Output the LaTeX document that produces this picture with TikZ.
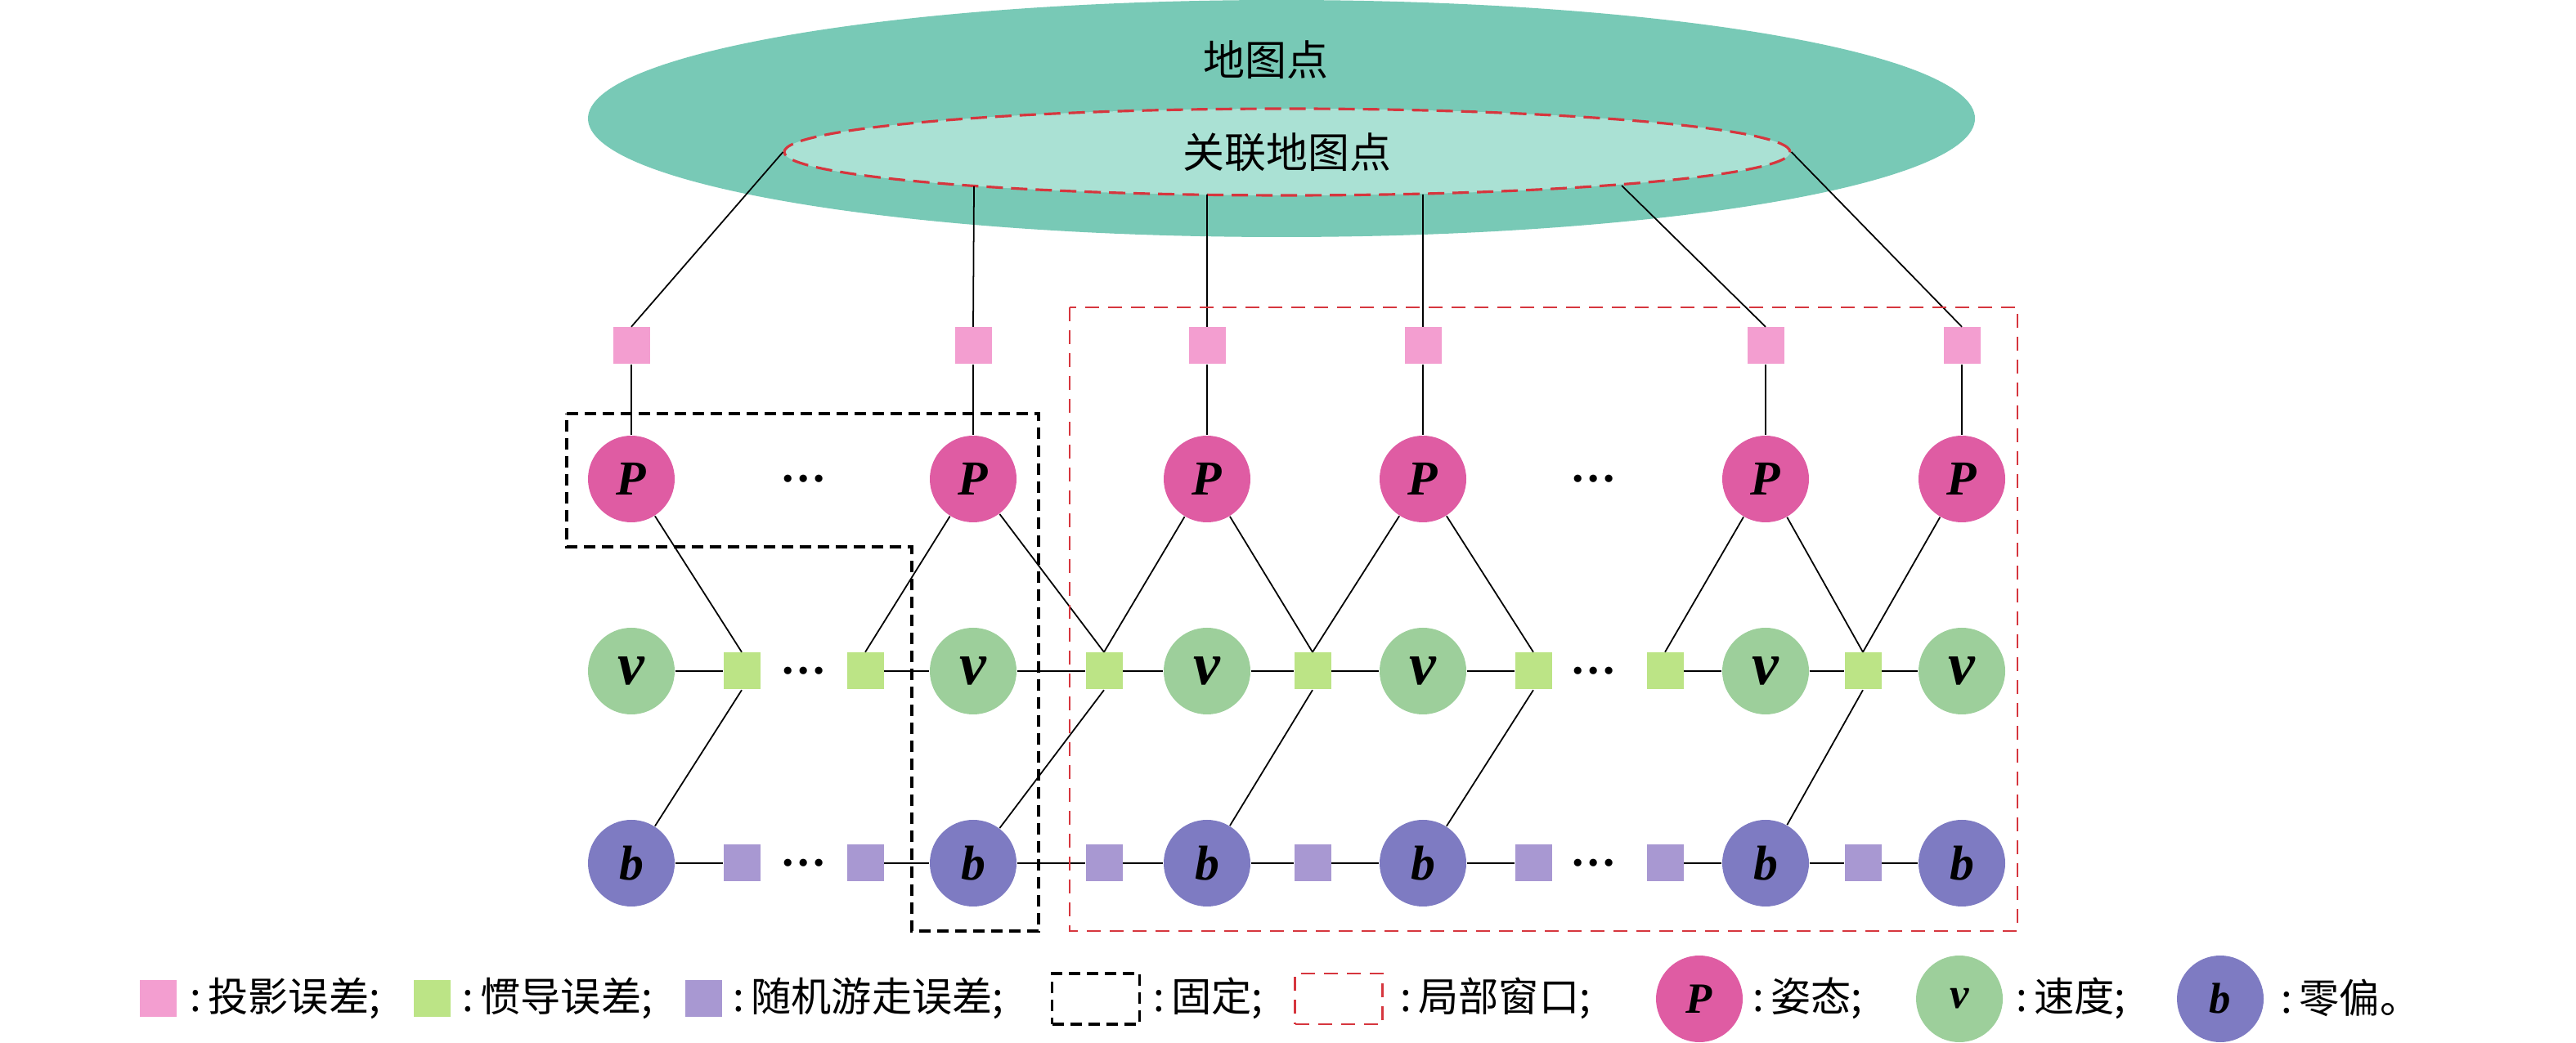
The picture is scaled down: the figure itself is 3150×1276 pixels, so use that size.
\documentclass[tikz,border=0pt]{standalone}
\usepackage{fontspec}
\setmainfont{Liberation Serif}
\newfontfamily\cjk{Noto Sans CJK SC}
\usetikzlibrary{positioning,shapes.geometric}

\definecolor{mapteal}{HTML}{78C9B6}
\definecolor{selteal}{HTML}{AAE1D4}
\definecolor{winred}{HTML}{D6363E}
\definecolor{posecol}{HTML}{DF5CA3}
\definecolor{velcol}{HTML}{9DCF9B}
\definecolor{biascol}{HTML}{7E7BC2}
\definecolor{projcol}{HTML}{F39ED0}
\definecolor{imucol}{HTML}{BCE486}
\definecolor{walkcol}{HTML}{A898D2}

\begin{document}
\begin{tikzpicture}[
    x=0.1mm, y=-0.1mm,
    posenode/.style={circle, fill=posecol, minimum size=10.6mm, inner sep=0pt, font=\fontsize{17}{17}\selectfont\bfseries\itshape},
    velnode/.style={circle, fill=velcol, minimum size=10.6mm, inner sep=0pt, font=\fontsize{21}{21}\selectfont\bfseries\itshape},
    biasnode/.style={circle, fill=biascol, minimum size=10.6mm, inner sep=0pt, font=\fontsize{17}{17}\selectfont\bfseries\itshape},
    projsq/.style={rectangle, fill=projcol, minimum size=4.5mm, inner sep=0pt},
    imusq/.style={rectangle, fill=imucol, minimum size=4.5mm, inner sep=0pt},
    walksq/.style={rectangle, fill=walkcol, minimum size=4.5mm, inner sep=0pt},
    dotsnode/.style={inner sep=0pt, font=\fontsize{16}{16}\selectfont\bfseries},
    legtext/.style={anchor=west, inner sep=0pt, font=\fontsize{14}{16}\selectfont\cjk},
    legletter/.style={font=\fontsize{15}{15}\selectfont\bfseries\itshape},
    fixbox/.style={draw=black, line width=0.9pt, dash pattern=on 1.4mm off 0.8mm},
    winbox/.style={draw=winred, line width=0.7pt, dash pattern=on 1.7mm off 1.1mm},
    link/.style={draw=black, line width=0.5pt},
    on grid, node distance=23.5mm,
    ]
\useasboundingbox (0,0) rectangle (3150,1276);

%Map points
\node[ellipse, fill=mapteal, minimum width=169.6mm, minimum height=29mm, inner sep=0pt] (map) at (1567,145) {};
\node[font=\fontsize{14.5}{16}\selectfont\cjk] (maplbl) at (1548,73) {地图点};
\node[ellipse, fill=selteal, draw=winred, line width=0.9pt, dash pattern=on 2mm off 1mm,
      minimum width=123mm, minimum height=10.6mm, inner sep=0pt,
      font=\fontsize{14.5}{16}\selectfont\cjk] (mapsel) at (1574,186) {关联地图点};
% points on the lower rim of the associated map points
\coordinate (sel2) at (1191,228);
\coordinate (sel3) at (1476,238);
\coordinate (sel4) at (1740,238);
\coordinate (sel5) at (1983,227);

%Nodes
\node[posenode]  (P1) at (772,586)             {P};
\node[posenode]  (P2) [right=41.8mm of P1]     {P};
\node[posenode]  (P3) [right=28.6mm of P2]     {P};
\node[posenode]  (P4) [right=26.4mm of P3]     {P};
\node[posenode]  (P5) [right=41.9mm of P4]     {P};
\node[posenode]  (P6) [right=24mm of P5]       {P};

\node[velnode]   (v1) [below=of P1] {v};
\node[velnode]   (v2) [below=of P2] {v};
\node[velnode]   (v3) [below=of P3] {v};
\node[velnode]   (v4) [below=of P4] {v};
\node[velnode]   (v5) [below=of P5] {v};
\node[velnode]   (v6) [below=of P6] {v};

\node[biasnode]  (b1) [below=of v1] {b};
\node[biasnode]  (b2) [below=of v2] {b};
\node[biasnode]  (b3) [below=of v3] {b};
\node[biasnode]  (b4) [below=of v4] {b};
\node[biasnode]  (b5) [below=of v5] {b};
\node[biasnode]  (b6) [below=of v6] {b};

\node[projsq]    (pk1) [above=16.3mm of P1] {};
\node[projsq]    (pk2) [above=16.3mm of P2] {};
\node[projsq]    (pk3) [above=16.3mm of P3] {};
\node[projsq]    (pk4) [above=16.3mm of P4] {};
\node[projsq]    (pk5) [above=16.3mm of P5] {};
\node[projsq]    (pk6) [above=16.3mm of P6] {};

\node[imusq]     (ga) [right=13.5mm of v1] {};
\node[imusq]     (gb) [left=13.2mm of v2]  {};
\node[imusq]     (gc) [right=16mm of v2]   {};
\node[imusq]     (gd) [right=12.9mm of v3] {};
\node[imusq]     (ge) [right=13.5mm of v4] {};
\node[imusq]     (gf) [left=12.3mm of v5]  {};
\node[imusq]     (gg) [right=11.9mm of v5] {};

\node[walksq]    (ra) [below=of ga] {};
\node[walksq]    (rb) [below=of gb] {};
\node[walksq]    (rc) [below=of gc] {};
\node[walksq]    (rd) [below=of gd] {};
\node[walksq]    (re) [below=of ge] {};
\node[walksq]    (rf) [below=of gf] {};
\node[walksq]    (rg) [below=of gg] {};

\node[dotsnode]  (dv1) [right=7.6mm of ga] {…};
\node[dotsnode]  (dp1) [above=of dv1]      {…};
\node[dotsnode]  (db1) [below=of dv1]      {…};
\node[dotsnode]  (dv2) [right=7.4mm of ge] {…};
\node[dotsnode]  (dp2) [above=of dv2]      {…};
\node[dotsnode]  (db2) [below=of dv2]      {…};

%Lines
\path[link]
(mapsel.west)  edge (pk1.north)
(sel2)         edge (pk2.north)
(sel3)         edge (pk3.north)
(sel4)         edge (pk4.north)
(sel5)         edge (pk5.north)
(mapsel.east)  edge (pk6.north)
(pk1) edge (P1)  (pk2) edge (P2)  (pk3) edge (P3)
(pk4) edge (P4)  (pk5) edge (P5)  (pk6) edge (P6)
(v1) edge (ga)  (gb) edge (v2)  (v2) edge (gc)  (gc) edge (v3)
(v3) edge (gd)  (gd) edge (v4)  (v4) edge (ge)
(gf) edge (v5)  (v5) edge (gg)  (gg) edge (v6)
(b1) edge (ra)  (rb) edge (b2)  (b2) edge (rc)  (rc) edge (b3)
(b3) edge (rd)  (rd) edge (b4)  (b4) edge (re)
(rf) edge (b5)  (b5) edge (rg)  (rg) edge (b6)
(P1) edge (ga.north)  (ga.south) edge (b1)
(P2) edge (gb.north)
(P2) edge (gc.north)  (P3) edge (gc.north)  (gc.south) edge (b2)
(P3) edge (gd.north)  (P4) edge (gd.north)  (gd.south) edge (b3)
(P4) edge (ge.north)  (ge.south) edge (b4)
(P5) edge (gf.north)
(P5) edge (gg.north)  (P6) edge (gg.north)  (gg.south) edge (b5);

%Windows
\draw[fixbox] (693,506) -- (1270,506) -- (1270,1139) -- (1115,1139) -- (1115,669) -- (693,669) -- cycle;
\draw[winbox] (1308,376) rectangle (2467,1139);

%Legend
\node[projsq]   (lgproj) at (193,1221) {};
\node[legtext]  (lgprojt) at (232,1221) {:\,投影误差;};
\node[imusq]    (lgimu) at (528,1221) {};
\node[legtext]  (lgimut) at (565,1221) {:\,惯导误差;};
\node[walksq]   (lgwalk) at (860,1221) {};
\node[legtext]  (lgwalkt) at (896,1221) {:\,随机游走误差;};
\node[fixbox, minimum width=10.7mm, minimum height=6.2mm, inner sep=0pt] (lgfix) at (1340,1222) {};
\node[legtext]  (lgfixt) at (1410,1221) {:\,固定;};
\node[winbox, minimum width=10.7mm, minimum height=6.2mm, inner sep=0pt] (lgwin) at (1637,1222) {};
\node[legtext]  (lgwint) at (1712,1221) {:\,局部窗口;};
\node[posenode, legletter]  (lgpose) at (2078,1222) {P};
\node[legtext]  (lgposet) at (2143,1221) {:\,姿态;};
\node[velnode, legletter]   (lgvel) at (2396,1222) {v};
\node[legtext]  (lgvelt) at (2465,1221) {:\,速度;};
\node[biasnode, legletter]  (lgbias) at (2715,1222) {b};
\node[legtext]  (lgbiast) at (2789,1221) {:\,零偏。};
\end{tikzpicture}
\end{document}
